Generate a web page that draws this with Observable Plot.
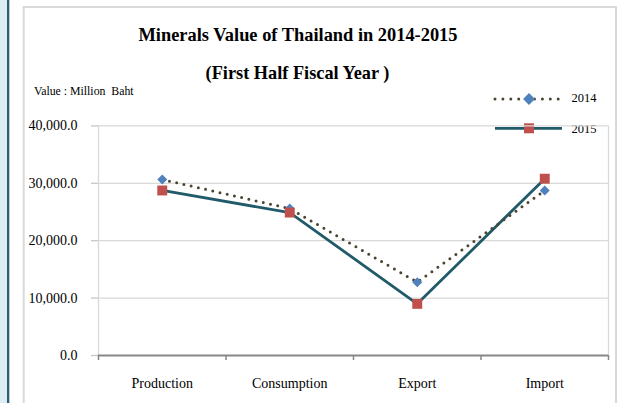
<!DOCTYPE html>
<html>
<head>
<meta charset="utf-8">
<script src="https://cdn.jsdelivr.net/npm/d3@7"></script>
<script src="https://cdn.jsdelivr.net/npm/@observablehq/plot@0.6"></script>
<style>
  html, body { margin: 0; padding: 0; background: #fff; }
  #wrap { position: relative; width: 618px; height: 403px; overflow: hidden; font-family: "Liberation Serif", "Times New Roman", serif; }
  #deco, #chart svg { position: absolute; left: 0; top: 0; }
  #deco text { font-family: "Liberation Serif", serif; }
</style>
</head>
<body>
<div id="wrap">
  <svg id="deco" width="618" height="403" xmlns="http://www.w3.org/2000/svg">
    <rect x="0" y="0" width="7" height="403" fill="#dbeef4"></rect>
    <rect x="7" y="0" width="2.3" height="403" fill="#2b6070"></rect>
    <rect x="23.7" y="7" width="592.3" height="430" fill="none" stroke="#d9d9d9" stroke-width="2"></rect>
    <text x="298" y="40.5" text-anchor="middle" font-weight="bold" font-size="18.4">Minerals Value of Thailand in 2014-2015</text>
    <text x="297.5" y="79" text-anchor="middle" font-weight="bold" font-size="18.3">(First Half Fiscal Year )</text>
    <text x="34" y="95" font-size="11.8" xml:space="preserve">Value : Million  Baht</text>
    <g id="legend"></g>
  </svg>
  <div id="chart"></div>
</div>
<script>
const categories = ["Production", "Consumption", "Export", "Import"];
const seriesNames = ["2014", "2015"];
const values2014 = [30660, 25600, 12770, 28750];
const values2015 = [28750, 24900, 9000, 30800];
const yTicks = [0, 10000, 20000, 30000, 40000];

const color2014Line = "#4a4430";
const color2015Line = "#215a69";
const color2014Marker = "#4f81bd";
const color2015Marker = "#c0504d";

const rows2014 = categories.map((c, i) => ({category: c, pos: i + 0.5, value: values2014[i]}));
const rows2015 = categories.map((c, i) => ({category: c, pos: i + 0.5, value: values2015[i]}));
const edges = d3.range(categories.length + 1);
const centers = categories.map((c, i) => i + 0.5);

const chart = Plot.plot({
  width: 618,
  height: 403,
  marginLeft: 98,
  marginRight: 10,
  marginTop: 125.4,
  marginBottom: 48,
  style: {background: "transparent", fontFamily: "Liberation Serif", fontSize: "14px", color: "#000", overflow: "visible"},
  x: {domain: [0, categories.length], axis: null},
  y: {domain: [0, 40000], axis: null},
  marks: [
    Plot.gridY(yTicks.slice(1), {stroke: "#d9d9d9", strokeOpacity: 1, strokeWidth: 1.3}),
    Plot.gridX([0, categories.length], {stroke: "#d9d9d9", strokeOpacity: 1, strokeWidth: 1.3}),
    Plot.axisY({ticks: yTicks, tickSize: 7, tickFormat: () => "", label: null, stroke: "#c8c8c8", strokeWidth: 1.3}),
    Plot.axisY({ticks: yTicks, tickSize: 0, tickPadding: 21, tickFormat: d3.format(",.1f"), label: null, fontSize: 14}),
    Plot.ruleY([0], {stroke: "#878787", strokeWidth: 2.2}),
    Plot.axisX({ticks: edges, tickSize: 5, tickFormat: () => "", label: null, stroke: "#878787", strokeWidth: 1.5}),
    Plot.axisX({ticks: centers, tickSize: 0, tickPadding: 23, tickFormat: (d) => categories[Math.round(d - 0.5)], label: null, fontSize: 14}),
    Plot.line(rows2015, {x: "pos", y: "value", stroke: color2015Line, strokeWidth: 2.8}),
    Plot.line(rows2014, {x: "pos", y: "value", stroke: color2014Line, strokeWidth: 3, strokeDasharray: "0,7.4", strokeLinecap: "round"}),
    Plot.dot(rows2014, {x: "pos", y: "value", symbol: "diamond2", r: 4.5, fill: color2014Marker}),
    Plot.dot(rows2015, {x: "pos", y: "value", symbol: "square", r: 5.6, fill: color2015Marker})
  ]
});
document.getElementById("chart").appendChild(chart);

// legend
const legend = d3.select("#legend");
const legendItems = [
  {name: seriesNames[0], y: 99, textY: 102, line: color2014Line, marker: color2014Marker, dash: "0,7.9", width: 3, symbol: d3.symbolDiamond2, size: 90},
  {name: seriesNames[1], y: 128.3, textY: 133, line: color2015Line, marker: color2015Marker, dash: null, width: 2.8, symbol: d3.symbolSquare, size: 100}
];
for (const it of legendItems) {
  const l = legend.append("line").attr("x1", 495).attr("x2", 562).attr("y1", it.y).attr("y2", it.y)
    .attr("stroke", it.line).attr("stroke-width", it.width);
  if (it.dash) l.attr("stroke-dasharray", it.dash).attr("stroke-linecap", "round");
  legend.append("path").attr("d", d3.symbol(it.symbol, it.size)()).attr("transform", `translate(529,${it.y})`).attr("fill", it.marker);
  legend.append("text").attr("x", 571.5).attr("y", it.textY).attr("font-size", 12.5).text(it.name);
}
</script>
</body>
</html>
